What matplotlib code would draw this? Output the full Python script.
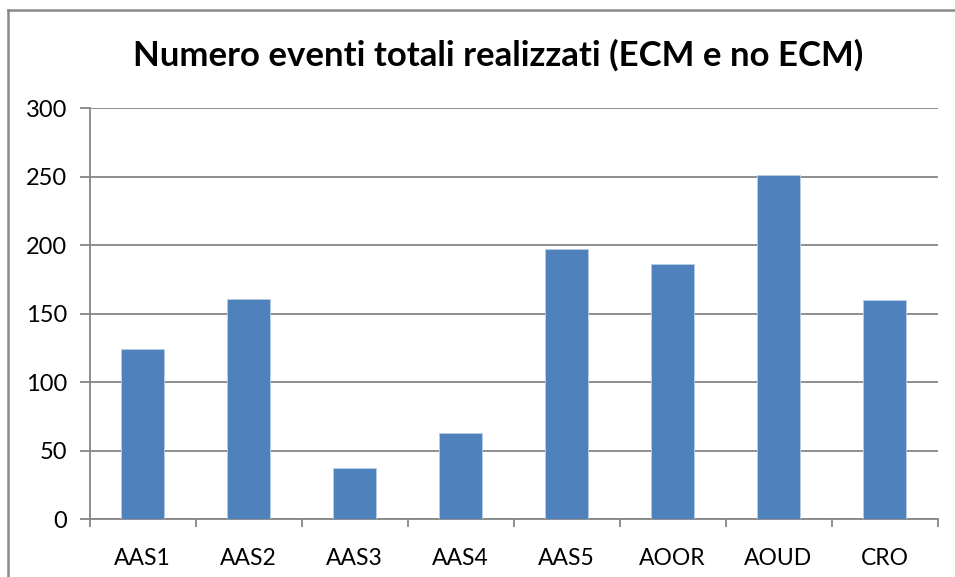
import matplotlib.pyplot as plt
from matplotlib.lines import Line2D
import numpy as np

# dati
categorie = ['AAS1', 'AAS2', 'AAS3', 'AAS4', 'AAS5', 'AOOR', 'AOUD', 'CRO']
eventi = [124, 161, 37, 63, 197, 186, 251, 160]
yticks = [0, 50, 100, 150, 200, 250, 300]

W, H = 955, 577
fig = plt.figure(figsize=[W / 100, H / 100], dpi=100)
plt.rcParams['font.family'] = ['Lato', 'DejaVu Sans']

ax = fig.add_axes([89.5 / W, 1 - 519 / H, (937.5 - 89.5) / W, (519 - 108.3) / H])
x = np.arange(len(categorie))
ax.bar(x, eventi, width=0.4, color='#4f81bd', edgecolor='#b9cde5', linewidth=0.6, zorder=3)

ax.set_xlim(-0.5, len(categorie) - 0.5)
ax.set_ylim(0, 300)
ax.set_yticks(yticks)
ax.yaxis.grid(True, color='#868686', linewidth=1.3, zorder=0)

# tick x ai confini delle categorie
ax.set_xticks(np.arange(len(categorie) + 1) - 0.5)
ax.set_xticklabels([])
ax.set_xticks(x, minor=True)
ax.set_xticklabels(categorie, minor=True, fontsize=16.5)
ax.tick_params(axis='x', which='minor', length=0, pad=21)
ax.tick_params(axis='x', which='major', length=6, width=1.3, color='#868686')
ax.tick_params(axis='y', length=7, width=1.3, color='#868686', labelsize=17, pad=9)

for s in ['top', 'right']:
    ax.spines[s].set_visible(False)
for s in ['left', 'bottom']:
    ax.spines[s].set_color('#868686')
    ax.spines[s].set_linewidth(1.3)

fig.text(498 / W, 1 - 55 / H, 'Numero eventi totali realizzati (ECM e no ECM)',
         ha='center', va='center', fontsize=25, fontweight='bold')

# bordo del grafico (solo sinistra e sopra visibili)
fig.add_artist(Line2D([7.5 / W, 7.5 / W], [0, 1 - 10 / H], color='#898989', linewidth=1.8))
fig.add_artist(Line2D([7.5 / W, 1], [1 - 10 / H, 1 - 10 / H], color='#898989', linewidth=1.8))

plt.savefig('out.png', dpi=100)
